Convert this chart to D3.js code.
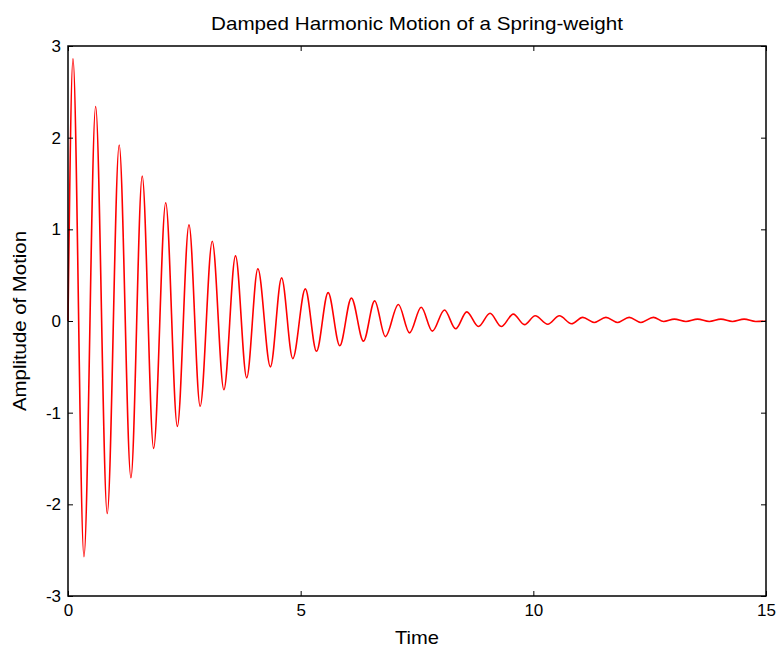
<!DOCTYPE html>
<html>
<head>
<meta charset="utf-8">
<script src="https://cdn.jsdelivr.net/npm/d3@7"></script>
<style>
  body { margin: 0; background: #fff; }
  svg { display: block; }
  text { font-family: 'Liberation Sans', Arial, sans-serif; fill: #000; }
</style>
</head>
<body>
<div class="container"></div>
<script>
// turning points of the trace
const times = [0, 0.107, 0.343, 0.594, 0.843, 1.1, 1.352, 1.595, 1.84, 2.1, 2.35, 2.6, 2.84,
  3.1, 3.35, 3.6, 3.84, 4.08, 4.35, 4.59, 4.83, 5.1, 5.34, 5.59, 5.84, 6.09, 6.35, 6.59, 6.82,
  7.1, 7.34, 7.59, 7.83, 8.09, 8.33, 8.57, 8.82, 9.07, 9.31, 9.57, 9.81, 10.04, 10.31, 10.56,
  10.82, 11.06, 11.31, 11.56, 11.81, 12.06, 12.31, 12.58, 12.8, 13.03, 13.28, 13.53, 13.78,
  14.03, 14.28, 14.53, 14.78, 15];
const amps = [0, 2.86, -2.57, 2.34, -2.1, 1.92, -1.71, 1.58, -1.39, 1.29, -1.15, 1.05, -0.93,
  0.87, -0.75, 0.71, -0.62, 0.57, -0.5, 0.47, -0.41, 0.35, -0.33, 0.31, -0.27, 0.25, -0.22, 0.22, -0.17,
  0.18, -0.13, 0.15, -0.11, 0.12, -0.085, 0.1, -0.06, 0.085, -0.06, 0.075, -0.04, 0.057, -0.035, 0.057,
  -0.03, 0.04, -0.016, 0.04, -0.016, 0.04, -0.016, 0.04, -0.005, 0.02, -0.005, 0.02, -0.005,
  0.02, -0.005, 0.02, -0.005, 0];

const xTicks = [0, 5, 10, 15];
const yTicks = [-3, -2, -1, 0, 1, 2, 3];

const title = 'Damped Harmonic Motion of a Spring-weight';
const xLabel = 'Time';
const yLabel = 'Amplitude of Motion';

const W = 779;
const H = 647;
const margin = { top: 46, right: 13, bottom: 51, left: 68 };
const width = W - margin.left - margin.right;
const height = H - margin.top - margin.bottom;

const svg = d3
  .select('.container')
  .append('svg')
  .attr('width', W)
  .attr('height', H);

const graph = svg.append('g').attr('transform', `translate(${margin.left}, ${margin.top})`);

const x = d3.scaleLinear().domain([0, 15]).range([0, width]);
const y = d3.scaleLinear().domain([-3, 3]).range([height, 0]);

const data = times.map((t, i) => ({ t, v: amps[i] }));

// trace
const line = d3
  .line()
  .x(d => x(d.t))
  .y(d => y(d.v))
  .curve(d3.curveMonotoneX);

graph
  .append('path')
  .datum(data)
  .attr('fill', 'none')
  .attr('stroke', '#ff0000')
  .attr('stroke-width', 1.6)
  .attr('d', line);

// axes, ticks pointing inward on all four sides
const plain = d => String(d); // hyphen minus like the original
const styleAxis = g => {
  g.select('.domain').remove();
  g.selectAll('.tick line').attr('stroke', '#000');
  g.selectAll('.tick text').style('font-size', '17px').style('font-family', "'Liberation Sans', Arial, sans-serif");
};

graph
  .append('g')
  .attr('transform', `translate(0, ${height})`)
  .call(d3.axisBottom(x).tickValues(xTicks).tickSize(-5).tickPadding(8).tickFormat(plain))
  .call(styleAxis);

graph
  .append('g')
  .call(d3.axisTop(x).tickValues(xTicks).tickSize(-5).tickFormat(''))
  .call(styleAxis);

graph
  .append('g')
  .call(d3.axisLeft(y).tickValues(yTicks).tickSize(-5).tickPadding(7).tickFormat(plain))
  .call(styleAxis);

graph
  .append('g')
  .attr('transform', `translate(${width}, 0)`)
  .call(d3.axisRight(y).tickValues(yTicks).tickSize(-5).tickFormat(''))
  .call(styleAxis);

graph
  .append('rect')
  .attr('width', width)
  .attr('height', height)
  .attr('fill', 'none')
  .attr('stroke', '#000')
  .attr('stroke-width', 1.5);

// labels
svg
  .append('text')
  .attr('x', margin.left + width / 2)
  .attr('y', 30)
  .attr('text-anchor', 'middle')
  .attr('textLength', 412)
  .attr('lengthAdjust', 'spacingAndGlyphs')
  .style('font-size', '19px')
  .text(title);

svg
  .append('text')
  .attr('x', margin.left + width / 2)
  .attr('y', 644)
  .attr('text-anchor', 'middle')
  .attr('textLength', 44)
  .attr('lengthAdjust', 'spacingAndGlyphs')
  .style('font-size', '19px')
  .text(xLabel);

svg
  .append('text')
  .attr('transform', `translate(26, ${margin.top + height / 2}) rotate(-90)`)
  .attr('text-anchor', 'middle')
  .attr('textLength', 180)
  .attr('lengthAdjust', 'spacingAndGlyphs')
  .style('font-size', '19px')
  .text(yLabel);
</script>
</body>
</html>
